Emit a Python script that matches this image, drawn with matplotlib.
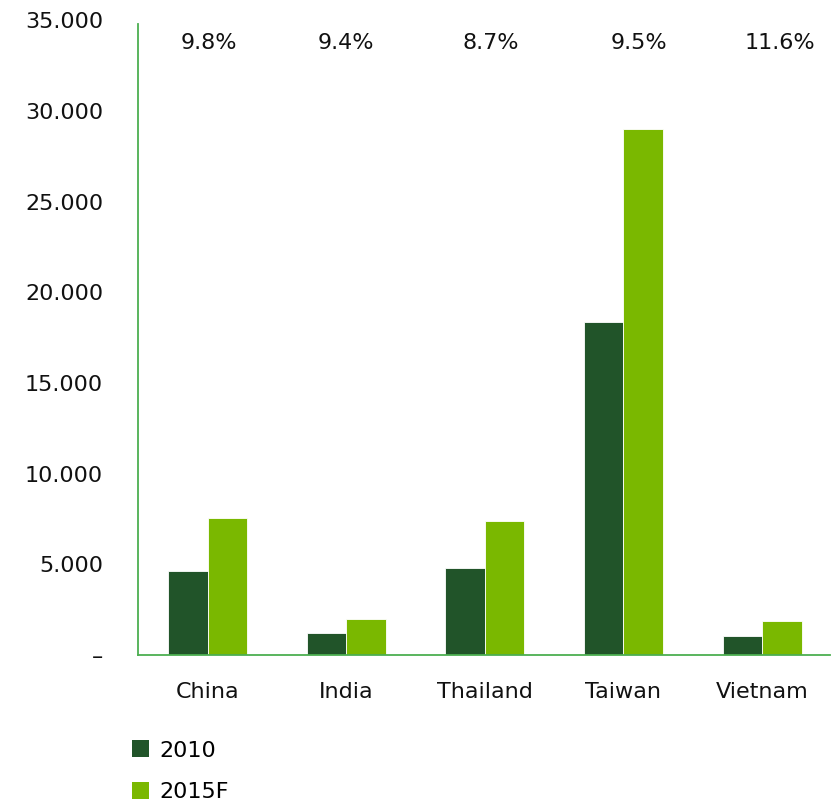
import matplotlib
matplotlib.use('Agg')
import matplotlib.pyplot as plt
from matplotlib.patches import Patch
import numpy as np

# data
countries = ['China', 'India', 'Thailand', 'Taiwan', 'Vietnam']
values_2010 = [4650, 1230, 4820, 18380, 1060]
values_2015 = [7580, 2000, 7420, 29000, 1900]
growth = ['9.8%', '9.4%', '8.7%', '9.5%', '11.6%']
series_names = ['2010', '2015F']
yticks = [0, 5000, 10000, 15000, 20000, 25000, 30000, 35000]
ytick_labels = ['–', '5.000', '10.000', '15.000', '20.000', '25.000', '30.000', '35.000']

dark_green = '#215429'
light_green = '#7ab800'
axis_green = '#4caf50'

# small horizontal nudges of the growth labels (in category units), as in the original
label_shift = [0.01, 0.0, 0.04, 0.11, 0.13]

fig = plt.figure(figsize=(8.4, 8.02), dpi=100)
ax = fig.add_axes([0.164, 0.183, 0.824, 0.792])

x = np.arange(len(countries))
w = 0.285
ax.bar(x - w / 2, values_2010, w, color=dark_green, edgecolor='white', linewidth=0.6)
ax.bar(x + w / 2, values_2015, w, color=light_green, edgecolor='white', linewidth=0.6)

# growth rates along the top
for i, g in enumerate(growth):
    ax.text(x[i] + label_shift[i], 33750, g, ha='center', va='center',
            fontsize=16, color='#111111')

ax.set_xlim(-0.505, 4.49)
ax.set_ylim(0, 35000)
ax.set_yticks(yticks)
ax.set_yticklabels(ytick_labels, fontsize=16, color='#111111')
ax.set_xticks(x)
ax.set_xticklabels(countries, fontsize=16, color='#111111')
ax.tick_params(axis='y', length=0, pad=25)
ax.tick_params(axis='x', length=0, pad=19)

for side in ['top', 'right']:
    ax.spines[side].set_visible(False)
ax.spines['left'].set_color(axis_green)
ax.spines['bottom'].set_color(axis_green)
ax.spines['left'].set_linewidth(1.3)
ax.spines['bottom'].set_linewidth(1.3)
ax.spines['left'].set_bounds(0, 34800)

handles = [Patch(facecolor=dark_green, label=series_names[0]),
           Patch(facecolor=light_green, label=series_names[1])]
fig.legend(handles=handles, loc='upper left', bbox_to_anchor=(0.146, 0.088),
           frameon=False, fontsize=16, handlelength=0.8, handleheight=0.8,
           handletextpad=0.45, labelspacing=0.95, borderaxespad=0)

plt.savefig('out.png', dpi=100)
plt.close()
